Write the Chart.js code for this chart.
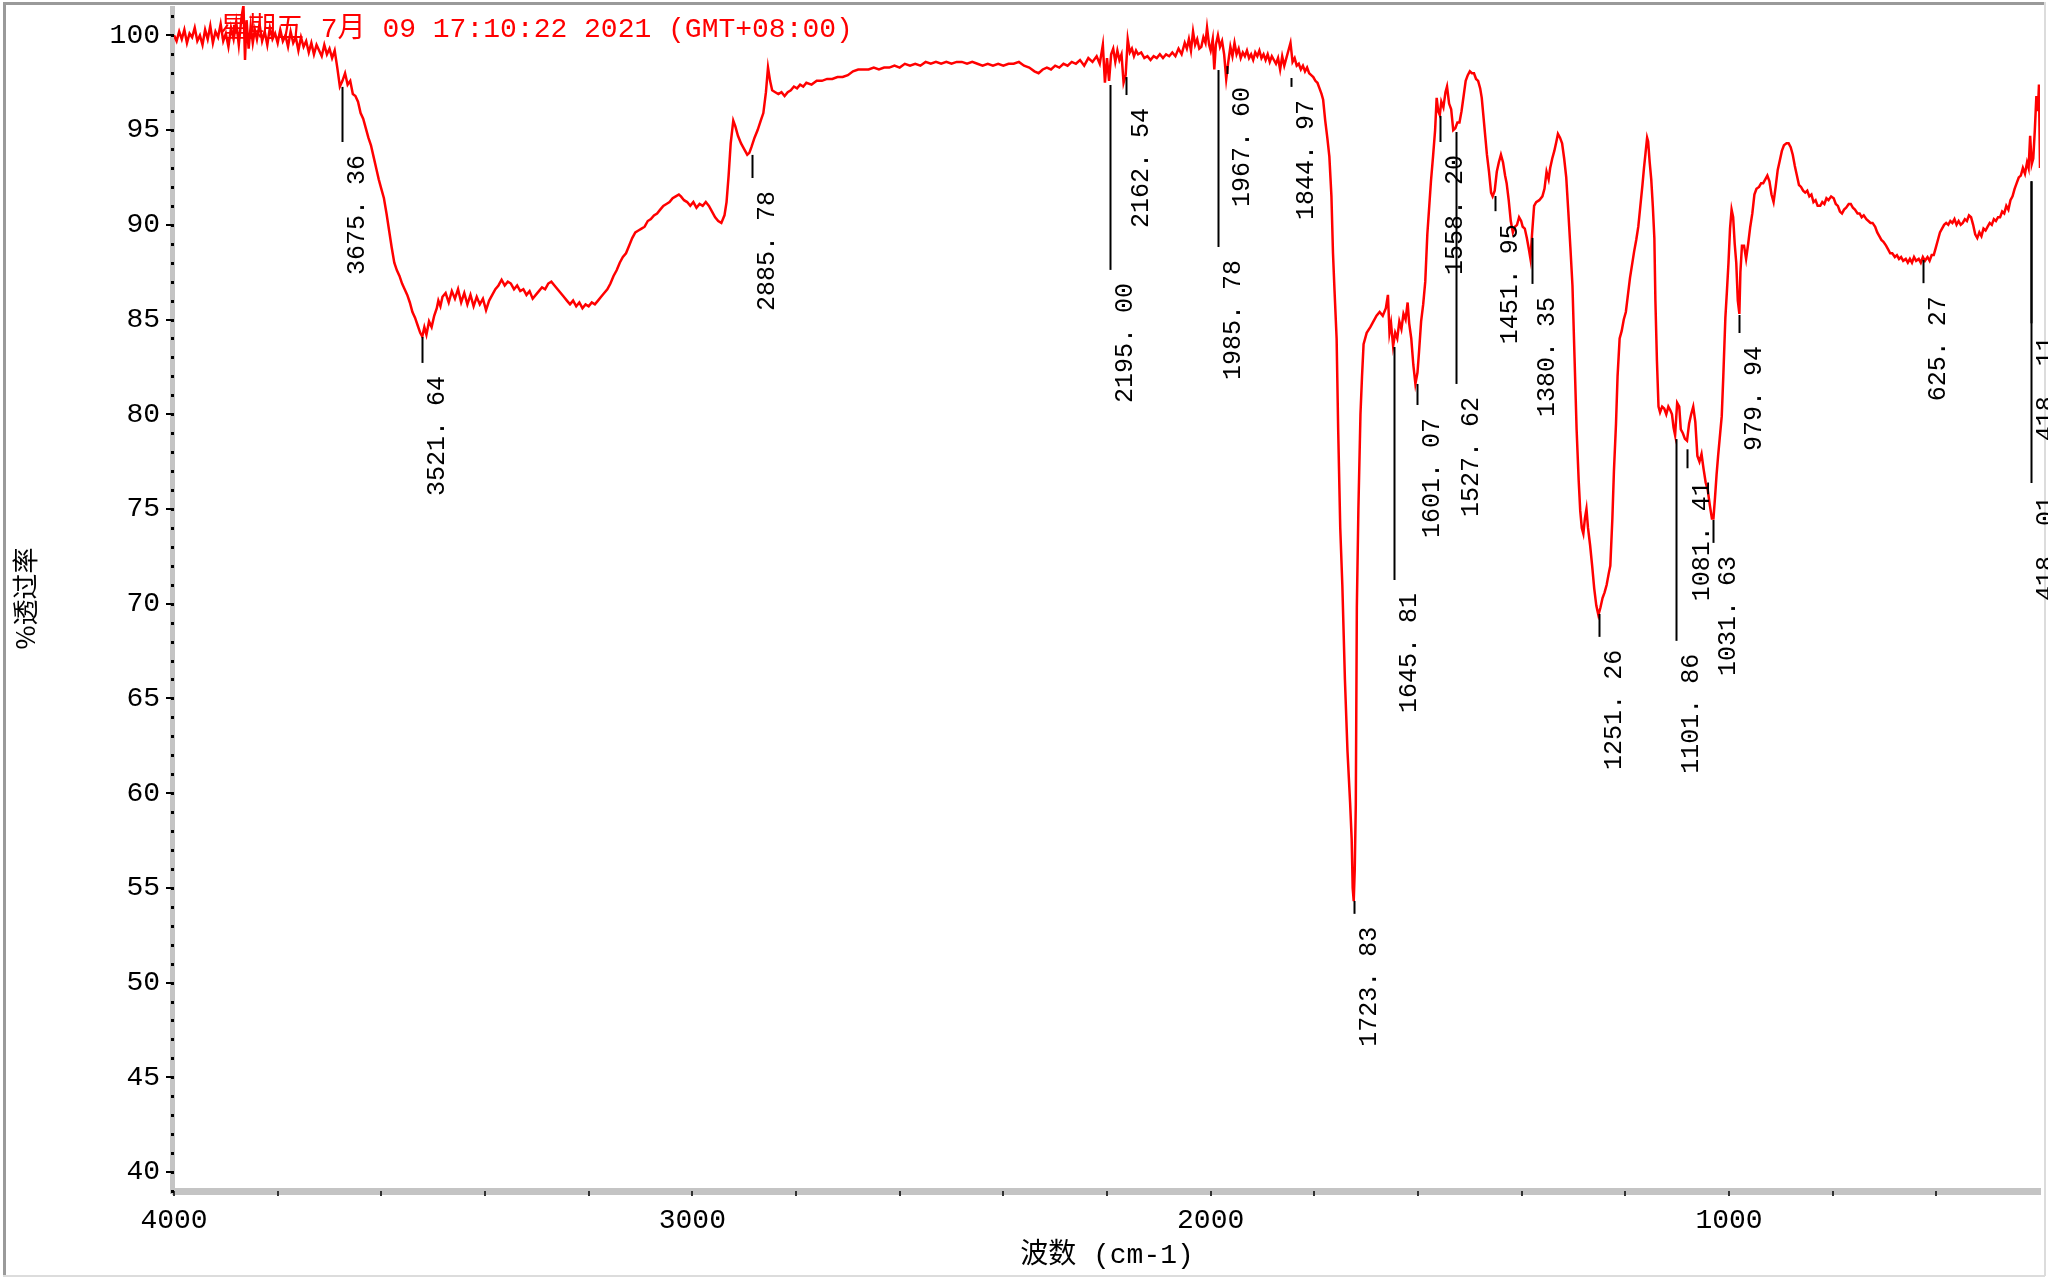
<!DOCTYPE html>
<html>
<head>
<meta charset="utf-8">
<script src="https://cdn.jsdelivr.net/npm/chart.js@4.4.1/dist/chart.umd.min.js"></script>
<style>
  html, body { margin: 0; padding: 0; background: #fff; }
  canvas { display: block; }
</style>
</head>
<body>
<canvas id="ir" width="2048" height="1280"></canvas>
<script>
// spectrum, wavenumber (cm-1) and %T
const wavenumbers = [
  4000,3995,3990,3985,3980,3975,3970,3965,3960,3955,3950,3945,3940,3935,3930,3925,3920,3915,3910,3905,
  3900,3895,3890,3885,3880,3875,3870,3866,3863,3860,3856,3852,3848,3844,3840,3835,3830,3825,3820,3815,
  3810,3805,3800,3795,3790,3785,3780,3775,3770,3765,3760,3755,3750,3745,3740,3735,3730,3725,3720,3715,
  3710,3705,3700,3695,3690,3685,3680,3675,3670,3665,3660,3655,3650,3645,3640,3635,3630,3625,3620,3615,
  3610,3605,3600,3595,3590,3585,3580,3575,3570,3565,3560,3555,3550,3545,3540,3535,3530,3525,3521,3517,
  3513,3508,3503,3498,3493,3490,3486,3482,3476,3470,3464,3458,3452,3446,3440,3434,3428,3422,3416,3410,
  3404,3398,3392,3386,3380,3374,3368,3362,3356,3350,3344,3338,3332,3326,3320,3314,3308,3302,3296,3290,
  3284,3278,3272,3266,3260,3254,3248,3242,3236,3230,3224,3218,3212,3206,3200,3194,3188,3182,3176,3170,
  3164,3158,3152,3146,3140,3134,3128,3122,3116,3110,3104,3098,3092,3086,3080,3074,3068,3062,3056,3050,
  3044,3038,3032,3026,3022,3016,3010,3004,2998,2992,2986,2980,2974,2968,2962,2956,2950,2944,2938,2934,
  2930,2926,2921,2917,2912,2906,2900,2894,2890,2886,2880,2874,2868,2863,2858,2854,2850,2846,2840,2834,
  2828,2822,2816,2810,2804,2798,2792,2786,2780,2770,2760,2750,2740,2730,2720,2710,2700,2690,2680,2670,
  2660,2650,2640,2630,2620,2610,2600,2590,2580,2570,2560,2550,2540,2530,2520,2510,2500,2490,2480,2470,
  2460,2450,2440,2430,2420,2410,2400,2390,2380,2370,2360,2350,2340,2332,2324,2316,2308,2300,2292,2284,
  2276,2268,2260,2252,2244,2236,2228,2220,2214,2208,2204,2200,2196,2192,2188,2184,2180,2176,2172,2168,
  2164,2160,2156,2152,2148,2144,2140,2134,2128,2122,2116,2110,2104,2098,2092,2086,2080,2074,2068,2062,
  2056,2050,2046,2042,2038,2034,2030,2026,2022,2018,2014,2010,2007,2003,2000,1996,1993,1990,1986,1982,
  1978,1974,1970,1966,1962,1958,1954,1950,1946,1942,1938,1934,1930,1926,1922,1918,1914,1910,1906,1902,
  1898,1894,1890,1886,1882,1878,1874,1870,1866,1862,1858,1854,1850,1846,1842,1838,1834,1830,1826,1822,
  1818,1814,1810,1806,1802,1798,1794,1790,1786,1783,1779,1775,1771,1767,1764,1761,1757,1754,1750,1746,
  1741,1736,1731,1728,1726,1724,1722,1720,1718,1715,1711,1708,1705,1699,1692,1686,1680,1674,1668,1662,
  1658,1655,1652,1648,1644,1640,1636,1632,1628,1624,1620,1617,1613,1609,1605,1601,1598,1594,1590,1586,
  1582,1579,1575,1571,1567,1564,1561,1558,1555,1551,1547,1544,1540,1536,1532,1528,1524,1520,1516,1512,
  1508,1504,1500,1496,1492,1488,1484,1480,1477,1474,1470,1467,1463,1459,1456,1452,1448,1444,1440,1436,
  1432,1429,1425,1421,1417,1413,1409,1405,1401,1398,1394,1390,1386,1383,1380,1376,1372,1366,1360,1356,
  1352,1348,1345,1341,1337,1333,1330,1326,1322,1318,1314,1310,1306,1302,1298,1294,1290,1287,1284,1281,
  1278,1275,1272,1268,1264,1260,1256,1252,1248,1244,1240,1236,1232,1229,1225,1222,1218,1215,1211,1207,
  1203,1199,1195,1191,1187,1183,1179,1175,1171,1167,1164,1161,1158,1156,1153,1150,1147,1144,1142,1139,
  1136,1133,1129,1125,1121,1117,1113,1110,1107,1104,1100,1096,1093,1089,1085,1081,1077,1073,1069,1065,
  1061,1057,1053,1049,1045,1041,1037,1033,1030,1027,1024,1021,1017,1014,1011,1007,1004,1001,998,995,
  992,989,986,983,980,978,975,971,967,963,959,955,951,947,942,938,934,930,926,922,
  918,914,910,906,902,898,894,889,885,881,877,873,869,865,861,857,853,849,845,841,
  837,833,829,824,820,816,812,808,803,798,794,790,786,782,778,774,769,765,761,757,
  752,748,744,740,735,731,727,723,718,714,710,706,702,697,693,689,685,680,676,672,
  668,664,659,655,651,647,643,639,634,630,626,622,617,613,609,605,601,597,593,589,
  585,581,577,573,569,565,561,557,553,549,545,541,537,533,529,525,521,517,513,509,
  505,501,497,493,489,485,481,477,473,469,465,461,457,453,449,445,441,437,433,429,
  425,422,419,416,413,410,407,404,402,400
];
const transmittance = [
  100.0,99.7,100.2,99.8,100.3,99.6,100.1,99.9,100.4,99.7,100.0,99.5,100.3,99.8,100.5,99.6,100.2,99.9,100.6,99.7,
  100.1,99.4,100.4,99.8,100.7,99.5,100.9,101.6,98.7,100.8,99.3,100.5,99.6,100.3,99.8,100.6,99.7,100.2,99.5,100.4,
  99.8,100.1,99.6,100.3,99.7,100.0,99.4,100.2,99.6,99.9,99.2,99.9,99.4,99.7,99.1,99.6,99.0,99.5,99.2,98.9,
  99.5,99.0,99.3,98.8,99.2,98.3,97.3,97.6,98.0,97.4,97.6,96.9,96.8,96.5,95.9,95.6,95.1,94.6,94.2,93.6,
  93.0,92.4,91.9,91.4,90.6,89.7,88.8,88.0,87.6,87.3,86.9,86.6,86.3,85.9,85.4,85.1,84.7,84.3,84.1,84.6,
  84.2,84.9,84.6,85.2,85.6,86.0,85.7,86.2,86.4,85.9,86.5,86.1,86.6,85.9,86.4,85.8,86.3,85.7,86.2,85.8,
  86.1,85.5,86.0,86.3,86.6,86.8,87.1,86.8,87.0,86.9,86.6,86.8,86.5,86.6,86.3,86.5,86.1,86.3,86.5,86.7,
  86.6,86.9,87.0,86.8,86.6,86.4,86.2,86.0,85.8,86.0,85.7,85.9,85.6,85.8,85.7,85.9,85.8,86.0,86.2,86.4,
  86.6,86.9,87.3,87.6,88.0,88.3,88.5,88.9,89.3,89.6,89.7,89.8,89.9,90.2,90.3,90.5,90.6,90.8,91.0,91.1,
  91.2,91.4,91.5,91.6,91.5,91.3,91.2,91.0,91.2,90.9,91.1,91.0,91.2,91.0,90.7,90.4,90.2,90.1,90.5,91.2,
  92.6,94.3,95.5,95.2,94.7,94.3,94.0,93.7,93.8,94.1,94.6,95.0,95.5,95.9,97.0,98.3,97.6,97.1,97.0,96.9,
  97.0,96.8,97.0,97.1,97.3,97.2,97.4,97.3,97.5,97.4,97.6,97.6,97.7,97.7,97.8,97.8,97.9,98.1,98.2,98.2,
  98.2,98.3,98.2,98.3,98.3,98.4,98.3,98.5,98.4,98.5,98.4,98.6,98.5,98.6,98.5,98.6,98.5,98.6,98.6,98.5,
  98.6,98.5,98.4,98.5,98.4,98.5,98.4,98.5,98.5,98.6,98.4,98.3,98.1,98.0,98.2,98.3,98.2,98.4,98.3,98.5,
  98.4,98.6,98.5,98.7,98.4,98.8,98.6,98.9,98.5,99.5,97.5,98.8,97.6,99.0,99.3,98.6,99.2,98.7,99.0,97.5,
  97.9,99.8,99.1,99.3,98.9,99.2,99.0,99.1,98.8,98.9,98.7,98.9,98.8,99.0,98.8,99.0,98.9,99.1,98.9,99.3,
  99.0,99.6,99.3,99.8,99.2,100.2,99.5,99.8,99.3,99.4,99.9,99.6,100.4,99.5,99.2,99.8,98.2,99.5,100.0,99.4,
  99.7,99.0,97.7,98.6,99.4,98.9,99.6,99.0,99.3,98.8,99.1,98.9,99.2,98.8,99.0,98.7,99.1,98.9,99.2,98.8,
  99.0,98.7,99.0,98.6,98.9,98.7,98.5,98.8,98.2,98.9,98.4,98.8,99.2,99.6,98.6,98.8,98.4,98.5,98.2,98.4,
  98.1,98.3,98.0,97.9,97.8,97.6,97.5,97.2,96.9,96.6,95.5,94.6,93.6,91.5,88.5,86.5,84.0,79.2,74.0,71.0,
  66.0,62.2,59.5,57.6,55.0,54.3,56.0,59.4,69.8,75.0,80.0,82.0,83.7,84.3,84.6,84.9,85.2,85.4,85.2,85.6,
  86.3,84.3,84.8,83.6,84.3,84.0,84.9,84.5,85.3,85.0,85.9,84.8,84.0,82.6,81.6,82.2,83.3,84.9,85.8,87.0,
  89.5,90.7,92.3,93.6,95.0,96.7,96.0,95.8,96.5,96.2,97.0,97.3,96.4,96.1,95.0,95.1,95.4,95.4,96.0,96.8,
  97.6,97.9,98.1,98.0,98.0,97.7,97.6,97.2,96.7,95.8,94.6,93.7,92.8,91.7,91.5,91.8,92.8,93.3,93.7,93.3,
  92.6,92.2,91.3,90.2,89.6,89.9,90.0,90.4,90.2,89.9,89.8,89.3,88.7,88.2,89.5,91.0,91.2,91.3,91.5,91.9,
  92.8,92.4,93.0,93.5,93.9,94.4,94.8,94.6,94.3,93.5,92.5,90.7,88.8,86.8,83.0,79.2,76.5,74.9,74.0,73.7,
  74.5,75.0,74.0,73.1,72.0,70.8,69.9,69.4,69.8,70.3,70.6,71.0,71.6,72.0,74.5,77.0,79.5,82.0,84.0,84.4,
  85.0,85.4,86.3,87.2,87.9,88.6,89.2,89.9,91.0,92.1,93.0,93.8,94.6,94.4,93.3,92.4,91.0,89.3,86.0,82.8,
  80.4,80.1,80.4,80.3,80.0,80.4,80.2,80.0,79.3,78.9,80.6,80.4,79.2,79.0,78.7,78.6,79.5,80.0,80.4,79.6,
  77.8,77.5,77.9,77.1,76.4,76.0,75.2,74.5,74.5,75.6,76.8,77.8,79.0,79.9,82.0,85.1,86.5,88.0,89.8,90.8,
  90.4,89.0,88.0,86.0,85.3,87.5,88.9,88.9,88.2,89.0,89.9,90.6,91.6,91.9,92.0,92.2,92.2,92.4,92.6,92.3,
  91.6,91.2,92.0,92.9,93.4,93.9,94.2,94.3,94.3,94.1,93.7,93.1,92.6,92.1,92.0,91.8,91.7,91.8,91.5,91.6,
  91.2,91.3,91.0,91.0,91.2,91.1,91.4,91.3,91.5,91.4,91.1,91.0,90.7,90.6,90.8,90.9,91.1,91.1,90.9,90.8,
  90.6,90.6,90.4,90.5,90.3,90.2,90.1,90.1,89.9,89.6,89.4,89.2,89.1,88.9,88.7,88.5,88.5,88.3,88.4,88.2,
  88.3,88.1,88.2,88.0,88.2,88.0,88.3,88.1,88.2,88.0,88.3,88.1,88.3,88.1,88.4,88.4,88.8,89.2,89.6,89.8,
  90.0,90.1,90.0,90.2,90.1,90.3,90.0,90.2,90.0,90.1,90.3,90.2,90.5,90.4,90.0,89.5,89.3,89.6,89.4,89.8,
  89.7,89.9,90.1,90.0,90.3,90.2,90.4,90.4,90.7,90.6,91.0,90.8,91.3,91.5,91.9,92.2,92.5,92.6,93.0,92.7,
  93.3,93.0,94.7,93.2,93.5,95.0,96.8,96.0,97.4,93.0
];

// labelled peaks: wavenumber, %T at the top and bottom of the marker line
const peakWn     = [3675.36, 3521.64, 2885.78, 2195.00, 2162.54, 1985.78, 1967.60, 1844.97, 1723.83, 1645.81, 1601.07, 1558.20, 1527.62, 1451.95, 1380.35, 1251.26, 1101.86, 1081.41, 1031.63, 979.94, 625.27, 418.11, 418.01];
const peakTop    = [97.28, 84.08, 93.69, 97.38, 97.80, 98.17, 98.38, 97.75, 54.31, 83.55, 81.60, 95.75, 94.90, 91.52, 89.31, 69.46, 78.69, 78.15, 74.42, 85.24, 88.14, 92.30, 92.30];
const peakBottom = [94.37, 82.71, 92.47, 87.62, 96.85, 88.83, 97.96, 97.28, 53.63, 71.25, 80.49, 94.37, 81.60, 90.72, 86.88, 68.25, 68.04, 77.15, 73.21, 84.29, 86.92, 84.80, 76.37];

const xTickValues = [4000,3800,3600,3400,3200,3000,2800,2600,2400,2200,2000,1800,1600,1400,1200,1000,800,600];
const xLabelValues = [4000, 3000, 2000, 1000];
const yTickValues = [40,45,50,55,60,65,70,75,80,85,90,95,100];

const stampText = '星期五 7月 09 17:10:22 2021 (GMT+08:00)';
const xTitle = '波数 (cm-1)';
const yTitle = '%透过率';

const MONO = "'Liberation Mono', 'Noto Sans CJK SC', monospace";

const points = wavenumbers.map((w, i) => ({ x: w, y: transmittance[i] }));

const framePlugin = {
  id: 'frame',
  beforeDraw(chart) {
    const { ctx, chartArea: a } = chart;
    ctx.save();
    ctx.fillStyle = '#fff';
    ctx.fillRect(0, 0, chart.width, chart.height);
    ctx.fillStyle = '#9a9a9a';
    ctx.fillRect(3, 2, 3, chart.height - 6);
    ctx.fillRect(3, 2, chart.width - 6, 3);
    ctx.fillStyle = '#dcdcdc';
    ctx.fillRect(3, chart.height - 5, chart.width - 6, 2);
    ctx.fillRect(chart.width - 4, 2, 2, chart.height - 6);
    // axis bars
    ctx.fillStyle = '#c4c4c4';
    ctx.fillRect(a.left - 4, a.top, 5, a.bottom - a.top + 3);
    ctx.fillRect(a.left - 2, a.bottom - 3, a.right - a.left + 3, 7);
    ctx.restore();
  },
  beforeDatasetsDraw(chart) {
    const { ctx, chartArea: a, scales: { y } } = chart;
    ctx.save();
    ctx.fillStyle = '#000';
    for (let v = Math.ceil(y.min); v <= Math.floor(y.max); v++) {
      const py = Math.round(y.getPixelForValue(v));
      ctx.fillRect(a.left - 3, py - 1, 3, 3);
    }
    ctx.restore();
  }
};

const peakPlugin = {
  id: 'peaks',
  afterDatasetsDraw(chart) {
    const { ctx, scales: { x, y } } = chart;
    ctx.save();
    ctx.strokeStyle = '#000';
    ctx.lineWidth = 2;
    ctx.fillStyle = '#000';
    ctx.font = '25px ' + MONO;
    peakWn.forEach((w, i) => {
      const px = Math.round(x.getPixelForValue(w)) + 0.5;
      const y1 = y.getPixelForValue(peakTop[i]);
      const y2 = y.getPixelForValue(peakBottom[i]);
      ctx.beginPath();
      ctx.moveTo(px, y1);
      ctx.lineTo(px, y2);
      ctx.stroke();
      const label = w.toFixed(2).replace('.', '. ');
      ctx.save();
      ctx.translate(px + 2, y2 + 13);
      ctx.rotate(-Math.PI / 2);
      ctx.textAlign = 'right';
      ctx.textBaseline = 'top';
      ctx.fillText(label, 0, 0);
      ctx.restore();
    });
    ctx.restore();
  },
  afterDraw(chart) {
    const { ctx } = chart;
    ctx.save();
    ctx.fillStyle = '#ff0000';
    ctx.font = '28px ' + MONO;
    ctx.textBaseline = 'middle';
    ctx.fillText(stampText, 220, 30);
    ctx.restore();
  }
};

new Chart(document.getElementById('ir'), {
  type: 'line',
  data: {
    datasets: [{
      data: points,
      borderColor: '#ff0000',
      borderWidth: 2.5,
      pointRadius: 0,
      tension: 0,
      fill: false
    }]
  },
  options: {
    responsive: false,
    animation: false,
    events: [],
    layout: { padding: { left: 8, right: 8, top: 6, bottom: 6 } },
    plugins: { legend: { display: false }, tooltip: { enabled: false }, title: { display: false } },
    scales: {
      x: {
        type: 'linear',
        reverse: true,
        min: 400,
        max: 4000,
        afterBuildTicks: s => { s.ticks = xTickValues.map(v => ({ value: v })); },
        afterFit: s => { s.height = 83; s.paddingLeft = 0; s.paddingRight = 0; },
        border: { display: false },
        grid: { drawOnChartArea: false, drawTicks: true, tickLength: 5, color: '#333', lineWidth: 2 },
        ticks: {
          autoSkip: false,
          maxRotation: 0,
          padding: 8,
          color: '#000',
          font: { family: MONO, size: 28 },
          callback: v => xLabelValues.includes(v) ? String(v) : ''
        },
        title: { display: true, text: xTitle, color: '#000', font: { family: MONO, size: 28 }, padding: { top: 0, bottom: 2 } }
      },
      y: {
        min: 39,
        max: 101.55,
        afterBuildTicks: s => { s.ticks = yTickValues.map(v => ({ value: v })); },
        afterFit: s => { s.width = 166; s.paddingTop = 0; s.paddingBottom = 0; },
        border: { display: false },
        grid: { drawOnChartArea: false, drawTicks: true, tickLength: 8, color: '#000', lineWidth: 2 },
        ticks: {
          padding: 6,
          color: '#000',
          font: { family: MONO, size: 28 },
          callback: v => String(v)
        },
        title: { display: true, text: yTitle, color: '#000', font: { family: "'Noto Sans CJK SC', sans-serif", size: 26 }, padding: { top: 2, bottom: 0 } }
      }
    }
  },
  plugins: [framePlugin, peakPlugin]
});
</script>
</body>
</html>
